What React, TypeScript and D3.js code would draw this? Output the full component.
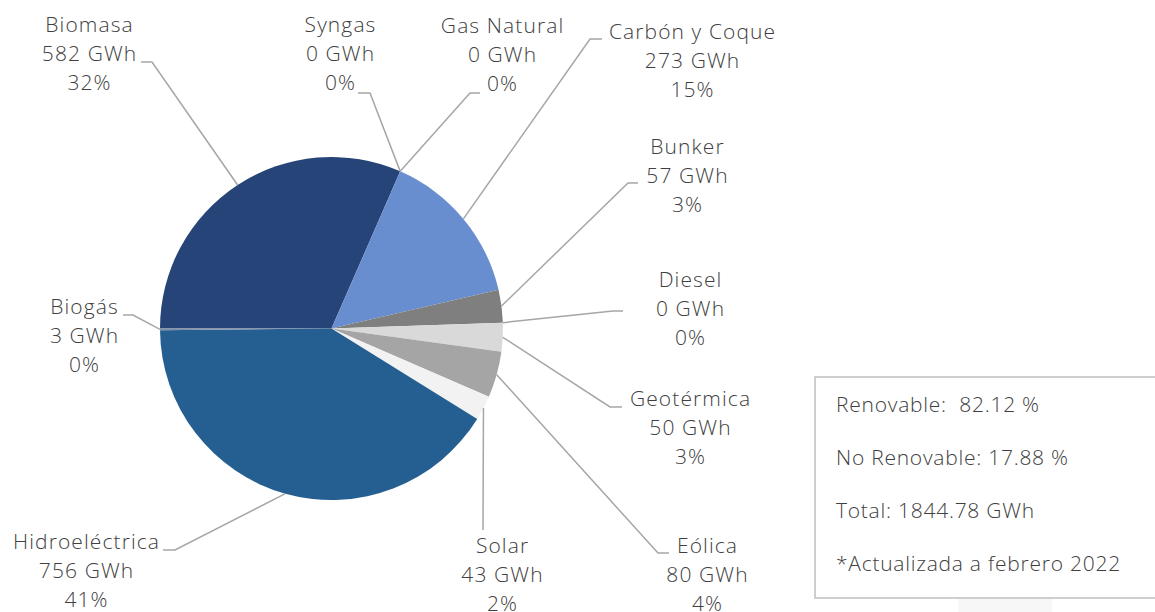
import React from "react";
import * as d3 from "d3";

// ---- data ----
const categories = [
  "Biomasa",
  "Syngas",
  "Gas Natural",
  "Carbón y Coque",
  "Bunker",
  "Diesel",
  "Geotérmica",
  "Eólica",
  "Solar",
  "Hidroeléctrica",
  "Biogás",
];
const valuesGWh = [582, 0, 0, 273, 57, 0, 50, 80, 43, 756, 3];
const sliceColors = [
  "#264478",
  "#3f62a8",
  "#4a72bd",
  "#698ed0",
  "#7f7f7f",
  "#bfbfbf",
  "#d9d9d9",
  "#a5a5a5",
  "#f2f2f2",
  "#255e91",
  "#8090a6",
];
const summaryLines = [
  "Renovable:  82.12 %",
  "No Renovable: 17.88 %",
  "Total: 1844.78 GWh",
  "*Actualizada a febrero 2022",
];

// ---- layout (label text centre x, first baseline y; leader elbow & end) ----
const labelLayout = [
  { x: 89, y: 32, ex: 152, ey: 62, fx: 141, fy: 62 },
  { x: 340, y: 32, ex: 370, ey: 93, fx: 358, fy: 93 },
  { x: 502, y: 33, ex: 470, ey: 93, fx: 480, fy: 93 },
  { x: 692, y: 39, ex: 590, ey: 39, fx: 602, fy: 39 },
  { x: 687, y: 154, ex: 628, ey: 183, fx: 638, fy: 183 },
  { x: 690, y: 287, ex: 613, ey: 311, fx: 623, fy: 311 },
  { x: 690, y: 406, ex: 610, ey: 407, fx: 622, fy: 407 },
  { x: 707, y: 553, ex: 658, ey: 553, fx: 669, fy: 553 },
  { x: 502, y: 553, ex: 483, ey: 530, fx: 483, fy: 530 },
  { x: 86, y: 549, ex: 175, ey: 550, fx: 163, fy: 550 },
  { x: 84, y: 314, ex: 133, ey: 315, fx: 123, fy: 315 },
];

const W = 1155;
const H = 612;
const CX = 331.5;
const CY = 328.5;
const R = 171.5;
const LINE_H = 29;
const FONT = "'Open Sans', 'Noto Sans', sans-serif";
const TEXT_COLOR = "#404040";
const FS = 21;
const LS = 1.1;

export default function App() {
  const data = categories.map((c, i) => ({ name: c, value: valuesGWh[i], color: sliceColors[i] }));
  const total = d3.sum(valuesGWh);
  const pie = d3
    .pie<any>()
    .sort(null)
    .value((d: any) => d.value)
    .startAngle(-Math.PI / 2)
    .endAngle((3 * Math.PI) / 2);
  const arcs = pie(data);
  const arcGen = d3.arc<any>().innerRadius(0).outerRadius(R);
  const pctFmt = d3.format(".0%");

  return (
    <svg
      width={W}
      height={H}
      style={{ position: "absolute", left: 0, top: 0, background: "#ffffff" }}
      fontFamily={FONT}
    >
      <rect x={958} y={598} width={94} height={14} fill="#f7f7f7" />
      <g transform={`translate(${CX},${CY})`}>
        {arcs.map((a, i) => (
          <path key={i} d={arcGen(a) || ""} fill={a.data.color} />
        ))}
      </g>
      {arcs.map((a, i) => {
        const mid = (a.startAngle + a.endAngle) / 2;
        const px = CX + R * Math.sin(mid);
        const py = CY - R * Math.cos(mid);
        const L = labelLayout[i];
        const line = d3.line()([
          [px, py],
          [L.ex, L.ey],
          [L.fx, L.fy],
        ]);
        return (
          <path key={"l" + i} d={line || ""} fill="none" stroke="#a6a6a6" strokeWidth={1.5} />
        );
      })}
      {arcs.map((a, i) => {
        const L = labelLayout[i];
        const lines = [a.data.name, `${a.data.value} GWh`, pctFmt(a.data.value / total)];
        return (
          <text
            key={"t" + i}
            textAnchor="middle"
            fontSize={FS}
            fontWeight={300}
            letterSpacing={LS}
            fill={TEXT_COLOR}
          >
            {lines.map((t, j) => (
              <tspan key={j} x={L.x + LS / 2} y={L.y + j * LINE_H}>
                {t}
              </tspan>
            ))}
          </text>
        );
      })}
      <rect x={815} y={377} width={360} height={221} fill="#ffffff" stroke="#bfbfbf" strokeWidth={1.5} />
      {summaryLines.map((t, i) => (
        <text
          key={"s" + i}
          x={836}
          y={412 + i * 53}
          fontSize={FS}
          fontWeight={300}
          letterSpacing={0.75}
          fill={TEXT_COLOR}
          style={{ whiteSpace: "pre" }}
        >
          {t}
        </text>
      ))}
    </svg>
  );
}
